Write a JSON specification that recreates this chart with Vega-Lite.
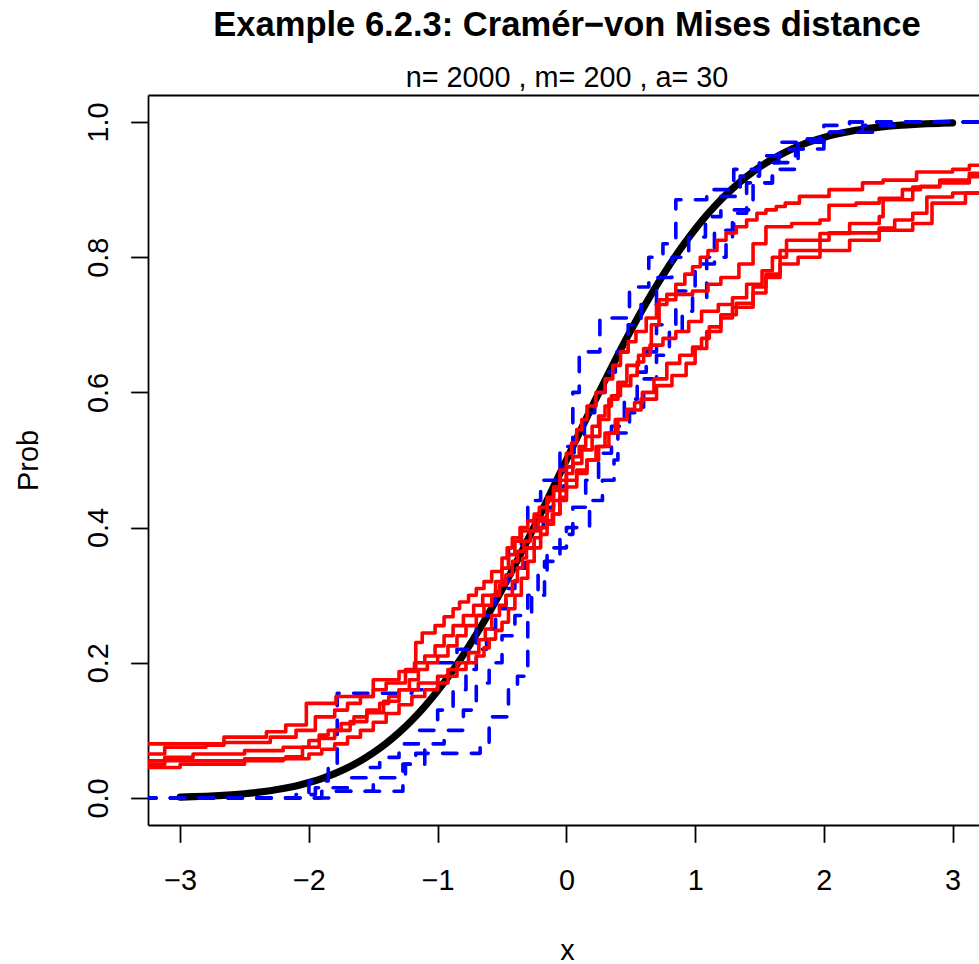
{
  "$schema": "https://vega.github.io/schema/vega-lite/v6.json",
  "width": 831,
  "height": 730,
  "autosize": {"type": "none"},
  "padding": {"left": 148, "top": 95, "right": 0, "bottom": 139},
  "background": "white",
  "config": {
    "view": {"stroke": null},
    "font": "Liberation Sans",
    "axis": {"grid": false, "labelFont": "Liberation Sans", "titleFont": "Liberation Sans"}
  },
  "title": {
    "text": "Example 6.2.3: Cramér−von Mises distance",
    "subtitle": "n= 2000 , m= 200 , a= 30",
    "fontSize": 34.56,
    "fontWeight": "bold",
    "color": "black",
    "subtitleFontSize": 28.8,
    "subtitleColor": "black",
    "subtitleFont": "Liberation Sans",
    "font": "Liberation Sans",
    "anchor": "middle",
    "dx": 3.5,
    "offset": 1,
    "subtitlePadding": 21
  },
  "datasets": {
    "norm": [
      {"x": -3.0, "p": 0.00135}, {"x": -2.9, "p": 0.00187}, {"x": -2.8, "p": 0.00256}, {"x": -2.7, "p": 0.00347},
      {"x": -2.6, "p": 0.00466}, {"x": -2.5, "p": 0.00621}, {"x": -2.4, "p": 0.0082}, {"x": -2.3, "p": 0.01072},
      {"x": -2.2, "p": 0.0139}, {"x": -2.1, "p": 0.01786}, {"x": -2.0, "p": 0.02275}, {"x": -1.9, "p": 0.02872},
      {"x": -1.8, "p": 0.03593}, {"x": -1.7, "p": 0.04457}, {"x": -1.6, "p": 0.0548}, {"x": -1.5, "p": 0.06681},
      {"x": -1.4, "p": 0.08076}, {"x": -1.3, "p": 0.0968}, {"x": -1.2, "p": 0.11507}, {"x": -1.1, "p": 0.13567},
      {"x": -1.0, "p": 0.15866}, {"x": -0.9, "p": 0.18406}, {"x": -0.8, "p": 0.21186}, {"x": -0.7, "p": 0.24196},
      {"x": -0.6, "p": 0.27425}, {"x": -0.5, "p": 0.30854}, {"x": -0.4, "p": 0.34458}, {"x": -0.3, "p": 0.38209},
      {"x": -0.2, "p": 0.42074}, {"x": -0.1, "p": 0.46017}, {"x": 0.0, "p": 0.5}, {"x": 0.1, "p": 0.53983},
      {"x": 0.2, "p": 0.57926}, {"x": 0.3, "p": 0.61791}, {"x": 0.4, "p": 0.65542}, {"x": 0.5, "p": 0.69146},
      {"x": 0.6, "p": 0.72575}, {"x": 0.7, "p": 0.75804}, {"x": 0.8, "p": 0.78814}, {"x": 0.9, "p": 0.81594},
      {"x": 1.0, "p": 0.84134}, {"x": 1.1, "p": 0.86433}, {"x": 1.2, "p": 0.88493}, {"x": 1.3, "p": 0.9032},
      {"x": 1.4, "p": 0.91924}, {"x": 1.5, "p": 0.93319}, {"x": 1.6, "p": 0.9452}, {"x": 1.7, "p": 0.95543},
      {"x": 1.8, "p": 0.96407}, {"x": 1.9, "p": 0.97128}, {"x": 2.0, "p": 0.97725}, {"x": 2.1, "p": 0.98214},
      {"x": 2.2, "p": 0.9861}, {"x": 2.3, "p": 0.98928}, {"x": 2.4, "p": 0.9918}, {"x": 2.5, "p": 0.99379},
      {"x": 2.6, "p": 0.99534}, {"x": 2.7, "p": 0.99653}, {"x": 2.8, "p": 0.99744}, {"x": 2.9, "p": 0.99813},
      {"x": 3.0, "p": 0.99865}
    ],
    "blue": [
      {"s": "b1", "x": -3.3, "p": 0}, {"s": "b1", "x": -2.0, "p": 0.025}, {"s": "b1", "x": -1.85, "p": 0.05}, {"s": "b1", "x": -1.78, "p": 0.155},
      {"s": "b1", "x": -1.2, "p": 0.16}, {"s": "b1", "x": -1.0, "p": 0.2}, {"s": "b1", "x": -0.85, "p": 0.22}, {"s": "b1", "x": -0.7, "p": 0.27},
      {"s": "b1", "x": -0.55, "p": 0.32}, {"s": "b1", "x": -0.45, "p": 0.37}, {"s": "b1", "x": -0.35, "p": 0.4}, {"s": "b1", "x": -0.3, "p": 0.44},
      {"s": "b1", "x": -0.2, "p": 0.47}, {"s": "b1", "x": -0.05, "p": 0.52}, {"s": "b1", "x": 0.05, "p": 0.6}, {"s": "b1", "x": 0.1, "p": 0.66},
      {"s": "b1", "x": 0.26, "p": 0.71}, {"s": "b1", "x": 0.49, "p": 0.756}, {"s": "b1", "x": 0.64, "p": 0.8}, {"s": "b1", "x": 0.75, "p": 0.82},
      {"s": "b1", "x": 0.85, "p": 0.885}, {"s": "b1", "x": 1.09, "p": 0.9}, {"s": "b1", "x": 1.3, "p": 0.93}, {"s": "b1", "x": 1.5, "p": 0.95},
      {"s": "b1", "x": 1.66, "p": 0.97}, {"s": "b1", "x": 1.81, "p": 0.975}, {"s": "b1", "x": 1.97, "p": 0.985}, {"s": "b1", "x": 2.2, "p": 1.0},
      {"s": "b1", "x": 3.3, "p": 1.0},
      {"s": "b2", "x": -3.3, "p": 0}, {"s": "b2", "x": -2.1, "p": 0.005}, {"s": "b2", "x": -1.95, "p": 0.015}, {"s": "b2", "x": -1.7, "p": 0.03},
      {"s": "b2", "x": -1.55, "p": 0.045}, {"s": "b2", "x": -1.45, "p": 0.06}, {"s": "b2", "x": -1.3, "p": 0.08}, {"s": "b2", "x": -1.15, "p": 0.1},
      {"s": "b2", "x": -1.0, "p": 0.13}, {"s": "b2", "x": -0.88, "p": 0.16}, {"s": "b2", "x": -0.78, "p": 0.19}, {"s": "b2", "x": -0.7, "p": 0.22},
      {"s": "b2", "x": -0.62, "p": 0.25}, {"s": "b2", "x": -0.55, "p": 0.28}, {"s": "b2", "x": -0.47, "p": 0.31}, {"s": "b2", "x": -0.4, "p": 0.34},
      {"s": "b2", "x": -0.32, "p": 0.37}, {"s": "b2", "x": -0.25, "p": 0.4}, {"s": "b2", "x": -0.18, "p": 0.43}, {"s": "b2", "x": -0.1, "p": 0.46},
      {"s": "b2", "x": -0.02, "p": 0.49}, {"s": "b2", "x": 0.06, "p": 0.53}, {"s": "b2", "x": 0.14, "p": 0.57}, {"s": "b2", "x": 0.22, "p": 0.6},
      {"s": "b2", "x": 0.3, "p": 0.63}, {"s": "b2", "x": 0.38, "p": 0.66}, {"s": "b2", "x": 0.48, "p": 0.7}, {"s": "b2", "x": 0.58, "p": 0.73},
      {"s": "b2", "x": 0.7, "p": 0.77}, {"s": "b2", "x": 0.82, "p": 0.8}, {"s": "b2", "x": 0.95, "p": 0.83}, {"s": "b2", "x": 1.08, "p": 0.86},
      {"s": "b2", "x": 1.2, "p": 0.89}, {"s": "b2", "x": 1.35, "p": 0.92}, {"s": "b2", "x": 1.5, "p": 0.94}, {"s": "b2", "x": 1.65, "p": 0.96},
      {"s": "b2", "x": 1.85, "p": 0.975}, {"s": "b2", "x": 2.05, "p": 0.985}, {"s": "b2", "x": 2.3, "p": 0.995}, {"s": "b2", "x": 2.6, "p": 1.0},
      {"s": "b2", "x": 3.3, "p": 1.0},
      {"s": "b3", "x": -3.3, "p": 0}, {"s": "b3", "x": -1.9, "p": 0.01}, {"s": "b3", "x": -1.5, "p": 0.03}, {"s": "b3", "x": -1.25, "p": 0.05},
      {"s": "b3", "x": -1.1, "p": 0.08}, {"s": "b3", "x": -0.95, "p": 0.1}, {"s": "b3", "x": -0.8, "p": 0.13}, {"s": "b3", "x": -0.7, "p": 0.17},
      {"s": "b3", "x": -0.6, "p": 0.2}, {"s": "b3", "x": -0.5, "p": 0.24}, {"s": "b3", "x": -0.4, "p": 0.27}, {"s": "b3", "x": -0.3, "p": 0.3},
      {"s": "b3", "x": -0.22, "p": 0.33}, {"s": "b3", "x": -0.15, "p": 0.36}, {"s": "b3", "x": -0.05, "p": 0.39}, {"s": "b3", "x": 0.05, "p": 0.43},
      {"s": "b3", "x": 0.15, "p": 0.47}, {"s": "b3", "x": 0.25, "p": 0.51}, {"s": "b3", "x": 0.35, "p": 0.55}, {"s": "b3", "x": 0.45, "p": 0.59},
      {"s": "b3", "x": 0.55, "p": 0.63}, {"s": "b3", "x": 0.62, "p": 0.66}, {"s": "b3", "x": 0.7, "p": 0.7}, {"s": "b3", "x": 0.85, "p": 0.75},
      {"s": "b3", "x": 1.0, "p": 0.79}, {"s": "b3", "x": 1.15, "p": 0.84}, {"s": "b3", "x": 1.3, "p": 0.87}, {"s": "b3", "x": 1.45, "p": 0.91},
      {"s": "b3", "x": 1.6, "p": 0.94}, {"s": "b3", "x": 1.78, "p": 0.96}, {"s": "b3", "x": 2.0, "p": 0.985}, {"s": "b3", "x": 2.4, "p": 1.0},
      {"s": "b3", "x": 3.3, "p": 1.0},
      {"s": "b4", "x": -3.3, "p": 0}, {"s": "b4", "x": -1.8, "p": 0.01}, {"s": "b4", "x": -1.27, "p": 0.05}, {"s": "b4", "x": -1.17, "p": 0.066},
      {"s": "b4", "x": -0.67, "p": 0.08}, {"s": "b4", "x": -0.6, "p": 0.12}, {"s": "b4", "x": -0.45, "p": 0.16}, {"s": "b4", "x": -0.38, "p": 0.18},
      {"s": "b4", "x": -0.3, "p": 0.26}, {"s": "b4", "x": -0.27, "p": 0.3}, {"s": "b4", "x": -0.17, "p": 0.35}, {"s": "b4", "x": -0.1, "p": 0.37},
      {"s": "b4", "x": 0.0, "p": 0.4}, {"s": "b4", "x": 0.18, "p": 0.44}, {"s": "b4", "x": 0.28, "p": 0.47}, {"s": "b4", "x": 0.37, "p": 0.5},
      {"s": "b4", "x": 0.4, "p": 0.54}, {"s": "b4", "x": 0.49, "p": 0.57}, {"s": "b4", "x": 0.6, "p": 0.62}, {"s": "b4", "x": 0.7, "p": 0.655},
      {"s": "b4", "x": 0.8, "p": 0.69}, {"s": "b4", "x": 0.9, "p": 0.72}, {"s": "b4", "x": 0.98, "p": 0.74}, {"s": "b4", "x": 1.09, "p": 0.8},
      {"s": "b4", "x": 1.24, "p": 0.82}, {"s": "b4", "x": 1.29, "p": 0.865}, {"s": "b4", "x": 1.4, "p": 0.91}, {"s": "b4", "x": 1.6, "p": 0.93},
      {"s": "b4", "x": 1.79, "p": 0.94}, {"s": "b4", "x": 1.8, "p": 0.97}, {"s": "b4", "x": 2.0, "p": 0.995}, {"s": "b4", "x": 2.2, "p": 1.0},
      {"s": "b4", "x": 3.3, "p": 1.0}
    ],
    "red": [
      {"s": "r1", "x": -3.3, "p": 0.08}, {"s": "r1", "x": -2.66, "p": 0.09}, {"s": "r1", "x": -2.33, "p": 0.098}, {"s": "r1", "x": -2.18, "p": 0.108},
      {"s": "r1", "x": -2.02, "p": 0.14}, {"s": "r1", "x": -1.79, "p": 0.15}, {"s": "r1", "x": -1.5, "p": 0.175}, {"s": "r1", "x": -1.3, "p": 0.187},
      {"s": "r1", "x": -1.17, "p": 0.23}, {"s": "r1", "x": -1.12, "p": 0.244}, {"s": "r1", "x": -1.02, "p": 0.255}, {"s": "r1", "x": -0.95, "p": 0.268},
      {"s": "r1", "x": -0.88, "p": 0.28}, {"s": "r1", "x": -0.83, "p": 0.29}, {"s": "r1", "x": -0.76, "p": 0.3}, {"s": "r1", "x": -0.7, "p": 0.31},
      {"s": "r1", "x": -0.64, "p": 0.32}, {"s": "r1", "x": -0.58, "p": 0.335}, {"s": "r1", "x": -0.5, "p": 0.355}, {"s": "r1", "x": -0.46, "p": 0.37},
      {"s": "r1", "x": -0.42, "p": 0.385}, {"s": "r1", "x": -0.36, "p": 0.4}, {"s": "r1", "x": -0.3, "p": 0.41}, {"s": "r1", "x": -0.25, "p": 0.42},
      {"s": "r1", "x": -0.21, "p": 0.43}, {"s": "r1", "x": -0.15, "p": 0.445}, {"s": "r1", "x": -0.1, "p": 0.46}, {"s": "r1", "x": -0.05, "p": 0.485},
      {"s": "r1", "x": 0.0, "p": 0.51}, {"s": "r1", "x": 0.04, "p": 0.525}, {"s": "r1", "x": 0.08, "p": 0.545}, {"s": "r1", "x": 0.12, "p": 0.56},
      {"s": "r1", "x": 0.16, "p": 0.58}, {"s": "r1", "x": 0.23, "p": 0.6}, {"s": "r1", "x": 0.3, "p": 0.62}, {"s": "r1", "x": 0.36, "p": 0.64},
      {"s": "r1", "x": 0.42, "p": 0.66}, {"s": "r1", "x": 0.48, "p": 0.675}, {"s": "r1", "x": 0.54, "p": 0.69}, {"s": "r1", "x": 0.62, "p": 0.71},
      {"s": "r1", "x": 0.7, "p": 0.73}, {"s": "r1", "x": 0.78, "p": 0.745}, {"s": "r1", "x": 0.85, "p": 0.76}, {"s": "r1", "x": 0.92, "p": 0.775},
      {"s": "r1", "x": 0.98, "p": 0.786}, {"s": "r1", "x": 1.04, "p": 0.8}, {"s": "r1", "x": 1.1, "p": 0.81}, {"s": "r1", "x": 1.17, "p": 0.825},
      {"s": "r1", "x": 1.24, "p": 0.836}, {"s": "r1", "x": 1.32, "p": 0.845}, {"s": "r1", "x": 1.4, "p": 0.855}, {"s": "r1", "x": 1.48, "p": 0.865},
      {"s": "r1", "x": 1.55, "p": 0.87}, {"s": "r1", "x": 1.63, "p": 0.875}, {"s": "r1", "x": 1.7, "p": 0.88}, {"s": "r1", "x": 1.81, "p": 0.89},
      {"s": "r1", "x": 2.04, "p": 0.9}, {"s": "r1", "x": 2.3, "p": 0.91}, {"s": "r1", "x": 2.46, "p": 0.914}, {"s": "r1", "x": 2.72, "p": 0.926},
      {"s": "r1", "x": 3.0, "p": 0.93}, {"s": "r1", "x": 3.13, "p": 0.936}, {"s": "r1", "x": 3.3, "p": 0.94},
      {"s": "r2", "x": -3.3, "p": 0.065}, {"s": "r2", "x": -3.12, "p": 0.075}, {"s": "r2", "x": -2.8, "p": 0.078}, {"s": "r2", "x": -2.66, "p": 0.082},
      {"s": "r2", "x": -2.3, "p": 0.09}, {"s": "r2", "x": -2.1, "p": 0.1}, {"s": "r2", "x": -1.95, "p": 0.12}, {"s": "r2", "x": -1.8, "p": 0.13},
      {"s": "r2", "x": -1.7, "p": 0.14}, {"s": "r2", "x": -1.6, "p": 0.15}, {"s": "r2", "x": -1.5, "p": 0.16}, {"s": "r2", "x": -1.4, "p": 0.17},
      {"s": "r2", "x": -1.25, "p": 0.19}, {"s": "r2", "x": -1.18, "p": 0.2}, {"s": "r2", "x": -1.1, "p": 0.21}, {"s": "r2", "x": -1.02, "p": 0.225},
      {"s": "r2", "x": -0.95, "p": 0.24}, {"s": "r2", "x": -0.88, "p": 0.255}, {"s": "r2", "x": -0.8, "p": 0.27}, {"s": "r2", "x": -0.72, "p": 0.285},
      {"s": "r2", "x": -0.65, "p": 0.3}, {"s": "r2", "x": -0.55, "p": 0.32}, {"s": "r2", "x": -0.5, "p": 0.34}, {"s": "r2", "x": -0.45, "p": 0.36},
      {"s": "r2", "x": -0.4, "p": 0.38}, {"s": "r2", "x": -0.35, "p": 0.395}, {"s": "r2", "x": -0.25, "p": 0.415}, {"s": "r2", "x": -0.15, "p": 0.44},
      {"s": "r2", "x": -0.1, "p": 0.455}, {"s": "r2", "x": -0.05, "p": 0.47}, {"s": "r2", "x": 0.0, "p": 0.49}, {"s": "r2", "x": 0.05, "p": 0.505},
      {"s": "r2", "x": 0.1, "p": 0.52}, {"s": "r2", "x": 0.15, "p": 0.535}, {"s": "r2", "x": 0.2, "p": 0.55}, {"s": "r2", "x": 0.25, "p": 0.565},
      {"s": "r2", "x": 0.3, "p": 0.58}, {"s": "r2", "x": 0.35, "p": 0.595}, {"s": "r2", "x": 0.42, "p": 0.61}, {"s": "r2", "x": 0.5, "p": 0.625},
      {"s": "r2", "x": 0.55, "p": 0.645}, {"s": "r2", "x": 0.6, "p": 0.665}, {"s": "r2", "x": 0.66, "p": 0.7}, {"s": "r2", "x": 0.72, "p": 0.737},
      {"s": "r2", "x": 0.85, "p": 0.745}, {"s": "r2", "x": 0.98, "p": 0.75}, {"s": "r2", "x": 1.1, "p": 0.76}, {"s": "r2", "x": 1.2, "p": 0.77},
      {"s": "r2", "x": 1.34, "p": 0.79}, {"s": "r2", "x": 1.45, "p": 0.82}, {"s": "r2", "x": 1.55, "p": 0.845}, {"s": "r2", "x": 1.75, "p": 0.85},
      {"s": "r2", "x": 1.97, "p": 0.855}, {"s": "r2", "x": 2.04, "p": 0.877}, {"s": "r2", "x": 2.25, "p": 0.88}, {"s": "r2", "x": 2.43, "p": 0.887},
      {"s": "r2", "x": 2.61, "p": 0.9}, {"s": "r2", "x": 2.75, "p": 0.905}, {"s": "r2", "x": 2.9, "p": 0.914}, {"s": "r2", "x": 3.13, "p": 0.924},
      {"s": "r2", "x": 3.3, "p": 0.93},
      {"s": "r3", "x": -3.3, "p": 0.055}, {"s": "r3", "x": -3.12, "p": 0.06}, {"s": "r3", "x": -2.9, "p": 0.065}, {"s": "r3", "x": -2.5, "p": 0.07},
      {"s": "r3", "x": -2.2, "p": 0.075}, {"s": "r3", "x": -2.0, "p": 0.085}, {"s": "r3", "x": -1.92, "p": 0.093}, {"s": "r3", "x": -1.85, "p": 0.1},
      {"s": "r3", "x": -1.75, "p": 0.11}, {"s": "r3", "x": -1.65, "p": 0.12}, {"s": "r3", "x": -1.55, "p": 0.13}, {"s": "r3", "x": -1.45, "p": 0.14},
      {"s": "r3", "x": -1.38, "p": 0.15}, {"s": "r3", "x": -1.3, "p": 0.16}, {"s": "r3", "x": -1.22, "p": 0.175}, {"s": "r3", "x": -1.15, "p": 0.19},
      {"s": "r3", "x": -1.08, "p": 0.2}, {"s": "r3", "x": -1.0, "p": 0.21}, {"s": "r3", "x": -0.92, "p": 0.225}, {"s": "r3", "x": -0.85, "p": 0.24},
      {"s": "r3", "x": -0.78, "p": 0.255}, {"s": "r3", "x": -0.7, "p": 0.27}, {"s": "r3", "x": -0.64, "p": 0.285}, {"s": "r3", "x": -0.58, "p": 0.3},
      {"s": "r3", "x": -0.52, "p": 0.315}, {"s": "r3", "x": -0.47, "p": 0.33}, {"s": "r3", "x": -0.42, "p": 0.35}, {"s": "r3", "x": -0.38, "p": 0.365},
      {"s": "r3", "x": -0.33, "p": 0.38}, {"s": "r3", "x": -0.28, "p": 0.395}, {"s": "r3", "x": -0.22, "p": 0.41}, {"s": "r3", "x": -0.15, "p": 0.425},
      {"s": "r3", "x": -0.1, "p": 0.44}, {"s": "r3", "x": -0.05, "p": 0.455}, {"s": "r3", "x": 0.0, "p": 0.48}, {"s": "r3", "x": 0.05, "p": 0.495},
      {"s": "r3", "x": 0.12, "p": 0.515}, {"s": "r3", "x": 0.2, "p": 0.535}, {"s": "r3", "x": 0.26, "p": 0.56}, {"s": "r3", "x": 0.33, "p": 0.59},
      {"s": "r3", "x": 0.4, "p": 0.615}, {"s": "r3", "x": 0.47, "p": 0.64}, {"s": "r3", "x": 0.56, "p": 0.655}, {"s": "r3", "x": 0.65, "p": 0.67},
      {"s": "r3", "x": 0.75, "p": 0.68}, {"s": "r3", "x": 0.85, "p": 0.69}, {"s": "r3", "x": 0.95, "p": 0.705}, {"s": "r3", "x": 1.05, "p": 0.72},
      {"s": "r3", "x": 1.18, "p": 0.73}, {"s": "r3", "x": 1.29, "p": 0.74}, {"s": "r3", "x": 1.4, "p": 0.76}, {"s": "r3", "x": 1.52, "p": 0.78},
      {"s": "r3", "x": 1.6, "p": 0.8}, {"s": "r3", "x": 1.71, "p": 0.825}, {"s": "r3", "x": 1.97, "p": 0.835}, {"s": "r3", "x": 2.2, "p": 0.85},
      {"s": "r3", "x": 2.43, "p": 0.86}, {"s": "r3", "x": 2.46, "p": 0.885}, {"s": "r3", "x": 2.69, "p": 0.904}, {"s": "r3", "x": 2.9, "p": 0.91},
      {"s": "r3", "x": 3.13, "p": 0.919}, {"s": "r3", "x": 3.3, "p": 0.925},
      {"s": "r4", "x": -3.3, "p": 0.05}, {"s": "r4", "x": -3.12, "p": 0.055}, {"s": "r4", "x": -2.5, "p": 0.058}, {"s": "r4", "x": -2.18, "p": 0.061},
      {"s": "r4", "x": -2.05, "p": 0.075}, {"s": "r4", "x": -1.92, "p": 0.088}, {"s": "r4", "x": -1.8, "p": 0.1}, {"s": "r4", "x": -1.68, "p": 0.113},
      {"s": "r4", "x": -1.55, "p": 0.126}, {"s": "r4", "x": -1.42, "p": 0.143}, {"s": "r4", "x": -1.3, "p": 0.16}, {"s": "r4", "x": -1.15, "p": 0.17},
      {"s": "r4", "x": -1.0, "p": 0.18}, {"s": "r4", "x": -0.92, "p": 0.19}, {"s": "r4", "x": -0.85, "p": 0.2}, {"s": "r4", "x": -0.76, "p": 0.215},
      {"s": "r4", "x": -0.68, "p": 0.234}, {"s": "r4", "x": -0.63, "p": 0.25}, {"s": "r4", "x": -0.58, "p": 0.27}, {"s": "r4", "x": -0.52, "p": 0.285},
      {"s": "r4", "x": -0.47, "p": 0.3}, {"s": "r4", "x": -0.42, "p": 0.32}, {"s": "r4", "x": -0.38, "p": 0.34}, {"s": "r4", "x": -0.34, "p": 0.355},
      {"s": "r4", "x": -0.31, "p": 0.37}, {"s": "r4", "x": -0.25, "p": 0.385}, {"s": "r4", "x": -0.2, "p": 0.4}, {"s": "r4", "x": -0.15, "p": 0.41},
      {"s": "r4", "x": -0.11, "p": 0.42}, {"s": "r4", "x": -0.05, "p": 0.445}, {"s": "r4", "x": 0.0, "p": 0.47}, {"s": "r4", "x": 0.08, "p": 0.485},
      {"s": "r4", "x": 0.16, "p": 0.5}, {"s": "r4", "x": 0.23, "p": 0.52}, {"s": "r4", "x": 0.3, "p": 0.54}, {"s": "r4", "x": 0.38, "p": 0.56},
      {"s": "r4", "x": 0.47, "p": 0.574}, {"s": "r4", "x": 0.58, "p": 0.59}, {"s": "r4", "x": 0.7, "p": 0.61}, {"s": "r4", "x": 0.82, "p": 0.625},
      {"s": "r4", "x": 0.93, "p": 0.643}, {"s": "r4", "x": 1.0, "p": 0.665}, {"s": "r4", "x": 1.09, "p": 0.69}, {"s": "r4", "x": 1.2, "p": 0.71},
      {"s": "r4", "x": 1.29, "p": 0.726}, {"s": "r4", "x": 1.45, "p": 0.747}, {"s": "r4", "x": 1.55, "p": 0.775}, {"s": "r4", "x": 1.66, "p": 0.81},
      {"s": "r4", "x": 1.97, "p": 0.825}, {"s": "r4", "x": 2.04, "p": 0.836}, {"s": "r4", "x": 2.43, "p": 0.843}, {"s": "r4", "x": 2.55, "p": 0.855},
      {"s": "r4", "x": 2.69, "p": 0.865}, {"s": "r4", "x": 2.8, "p": 0.889}, {"s": "r4", "x": 3.0, "p": 0.895}, {"s": "r4", "x": 3.3, "p": 0.905},
      {"s": "r5", "x": -3.3, "p": 0.045}, {"s": "r5", "x": -3.0, "p": 0.05}, {"s": "r5", "x": -2.5, "p": 0.055}, {"s": "r5", "x": -2.2, "p": 0.058},
      {"s": "r5", "x": -2.0, "p": 0.065}, {"s": "r5", "x": -1.9, "p": 0.072}, {"s": "r5", "x": -1.8, "p": 0.08}, {"s": "r5", "x": -1.7, "p": 0.09},
      {"s": "r5", "x": -1.6, "p": 0.1}, {"s": "r5", "x": -1.5, "p": 0.112}, {"s": "r5", "x": -1.4, "p": 0.125}, {"s": "r5", "x": -1.3, "p": 0.138},
      {"s": "r5", "x": -1.2, "p": 0.15}, {"s": "r5", "x": -1.1, "p": 0.16}, {"s": "r5", "x": -1.0, "p": 0.17}, {"s": "r5", "x": -0.92, "p": 0.18},
      {"s": "r5", "x": -0.85, "p": 0.19}, {"s": "r5", "x": -0.78, "p": 0.2}, {"s": "r5", "x": -0.7, "p": 0.21}, {"s": "r5", "x": -0.64, "p": 0.222},
      {"s": "r5", "x": -0.6, "p": 0.235}, {"s": "r5", "x": -0.55, "p": 0.248}, {"s": "r5", "x": -0.5, "p": 0.26}, {"s": "r5", "x": -0.45, "p": 0.28},
      {"s": "r5", "x": -0.4, "p": 0.3}, {"s": "r5", "x": -0.35, "p": 0.325}, {"s": "r5", "x": -0.3, "p": 0.35}, {"s": "r5", "x": -0.25, "p": 0.37},
      {"s": "r5", "x": -0.2, "p": 0.39}, {"s": "r5", "x": -0.15, "p": 0.405}, {"s": "r5", "x": -0.1, "p": 0.42}, {"s": "r5", "x": -0.05, "p": 0.44},
      {"s": "r5", "x": 0.0, "p": 0.46}, {"s": "r5", "x": 0.08, "p": 0.48}, {"s": "r5", "x": 0.16, "p": 0.5}, {"s": "r5", "x": 0.25, "p": 0.52},
      {"s": "r5", "x": 0.33, "p": 0.54}, {"s": "r5", "x": 0.4, "p": 0.56}, {"s": "r5", "x": 0.47, "p": 0.575}, {"s": "r5", "x": 0.53, "p": 0.585},
      {"s": "r5", "x": 0.59, "p": 0.6}, {"s": "r5", "x": 0.68, "p": 0.62}, {"s": "r5", "x": 0.78, "p": 0.643}, {"s": "r5", "x": 0.88, "p": 0.655},
      {"s": "r5", "x": 0.98, "p": 0.667}, {"s": "r5", "x": 1.05, "p": 0.68}, {"s": "r5", "x": 1.11, "p": 0.697}, {"s": "r5", "x": 1.2, "p": 0.715},
      {"s": "r5", "x": 1.32, "p": 0.732}, {"s": "r5", "x": 1.45, "p": 0.756}, {"s": "r5", "x": 1.55, "p": 0.77}, {"s": "r5", "x": 1.66, "p": 0.79},
      {"s": "r5", "x": 1.8, "p": 0.8}, {"s": "r5", "x": 1.97, "p": 0.81}, {"s": "r5", "x": 2.2, "p": 0.825}, {"s": "r5", "x": 2.43, "p": 0.84},
      {"s": "r5", "x": 2.69, "p": 0.85}, {"s": "r5", "x": 2.84, "p": 0.88}, {"s": "r5", "x": 3.1, "p": 0.895}, {"s": "r5", "x": 3.3, "p": 0.91}
    ]
  },
  "layer": [
    {
      "data": {"name": "norm"},
      "mark": {"type": "line", "color": "black", "strokeWidth": 7.2, "clip": true, "interpolate": "monotone", "strokeCap": "round"},
      "encoding": {
        "x": {
          "field": "x", "type": "quantitative",
          "scale": {"domain": [-3.25, 3.205], "nice": false, "zero": false},
          "axis": {
            "orient": "bottom", "values": [-3, -2, -1, 0, 1, 2, 3], "format": "d",
            "domainColor": "black", "domainWidth": 1.8, "tickColor": "black", "tickWidth": 1.8, "tickSize": 17.3,
            "labelFontSize": 28.8, "labelColor": "black", "labelBaseline": "alphabetic", "labelPadding": 46.7,
            "labelOverlap": false, "labelFlush": false,
            "title": "x", "titleFontSize": 28.8, "titleFontWeight": "normal", "titleColor": "black",
            "titleBaseline": "alphabetic", "titleAlign": "center", "titleX": 419, "titleY": 134
          }
        },
        "y": {
          "field": "p", "type": "quantitative",
          "scale": {"domain": [-0.04, 1.04], "nice": false, "zero": false},
          "axis": {
            "orient": "left", "values": [0, 0.2, 0.4, 0.6, 0.8, 1.0], "format": ".1f",
            "domainColor": "black", "domainWidth": 1.8, "tickColor": "black", "tickWidth": 1.8, "tickSize": 17.3,
            "labelFontSize": 28.8, "labelColor": "black", "labelAngle": -90, "labelAlign": "center", "labelBaseline": "alphabetic",
            "labelPadding": 23.7, "labelOverlap": false, "labelFlush": false,
            "title": "Prob", "titleFontSize": 28.8, "titleFontWeight": "normal", "titleColor": "black",
            "titleAngle": -90, "titleBaseline": "alphabetic", "titleAlign": "center", "titleX": -110.6, "titleY": 365
          }
        }
      }
    },
    {
      "data": {"name": "blue"},
      "mark": {"type": "line", "color": "#0000FF", "strokeWidth": 3.6, "clip": true, "interpolate": "step-after", "strokeDash": [14.4, 14.4], "strokeCap": "round", "strokeJoin": "round"},
      "encoding": {
        "x": {"field": "x", "type": "quantitative", "axis": null},
        "y": {"field": "p", "type": "quantitative", "axis": null},
        "detail": {"field": "s", "type": "nominal"}
      }
    },
    {
      "data": {"name": "red"},
      "mark": {"type": "line", "color": "#FF0000", "strokeWidth": 3.6, "clip": true, "interpolate": "step-after", "strokeCap": "round", "strokeJoin": "round"},
      "encoding": {
        "x": {"field": "x", "type": "quantitative", "axis": null},
        "y": {"field": "p", "type": "quantitative", "axis": null},
        "detail": {"field": "s", "type": "nominal"}
      }
    },
    {
      "data": {"name": "norm"},
      "mark": {"type": "point", "opacity": 0, "clip": true},
      "encoding": {
        "x": {
          "field": "x", "type": "quantitative",
          "axis": {"orient": "top", "labels": false, "ticks": false, "title": null, "domainColor": "black", "domainWidth": 1.8}
        },
        "y": {"field": "p", "type": "quantitative", "axis": null}
      }
    }
  ],
  "resolve": {"axis": {"x": "independent", "y": "independent"}}
}
